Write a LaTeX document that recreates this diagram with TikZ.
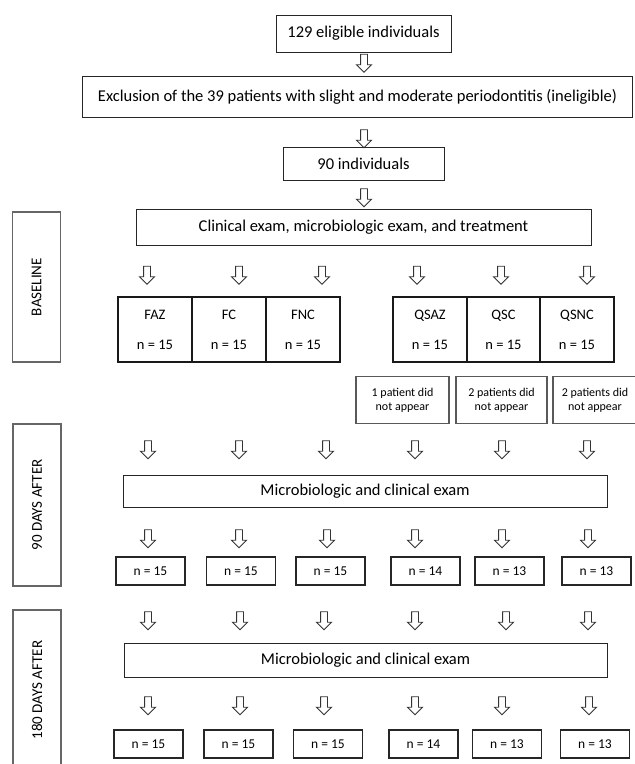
\documentclass[tikz,border=0pt]{standalone}
\usepackage{fontspec}
\setmainfont{Carlito}
\usetikzlibrary{shapes.arrows}
\begin{document}
\begin{tikzpicture}[x=1pt,y=-1pt,
  box/.style={draw=black!85, line width=1pt, inner sep=0pt, align=center,
    font=\fontsize{16.5}{19}\selectfont},
  cell/.style={draw=black!90, line width=1.4pt, inner sep=0pt, align=center,
    minimum width=74pt, minimum height=65pt, font=\fontsize{14.5}{30}\selectfont},
  miss/.style={draw=black!65, line width=1.1pt, inner sep=0pt, align=center,
    minimum height=47pt, font=\fontsize{12}{14}\selectfont},
  nbox/.style={draw=black!85, line width=1.2pt, inner sep=0pt, align=center,
    minimum width=69pt, minimum height=28pt, font=\fontsize{13.5}{16}\selectfont},
  side/.style={draw=black!60, line width=1.2pt, inner sep=0pt,
    minimum width=48pt, font=\fontsize{15}{18}\selectfont},
  downarr/.style={draw=black!80, line width=0.9pt, fill=white, single arrow,
    shape border rotate=270, inner sep=3pt, single arrow head extend=4pt,
    single arrow tip angle=90, minimum height=18pt}
]
\useasboundingbox (0,0) rectangle (635,764);

% top chain
\node[box, minimum width=175pt, minimum height=37pt] (b1) at (363.5,33.5) {129 eligible individuals};
\node[downarr] (a0) at (364,61.5) {};
\node[box, minimum width=550pt, minimum height=41pt] (b2) at (357.5,96.5) {Exclusion of the 39 patients with slight and moderate periodontitis (ineligible)};
\node[downarr] (a1) at (364,137) {};
\node[box, minimum width=161pt, minimum height=33pt] (b3) at (363.5,163.5) {90 individuals};
\node[downarr] (a2) at (364,196) {};
\node[box, minimum width=455pt, minimum height=36pt] (b4) at (363.5,227) {Clinical exam, microbiologic exam, and treatment};

% side labels
\node[side, minimum height=150pt] (s1) at (36.5,287) {};
\node[rotate=90, font=\fontsize{15}{18}\selectfont] (t1) at (s1.center) {BASELINE};
\node[side, minimum height=162pt] (s2) at (37,505) {};
\node[rotate=90, font=\fontsize{15}{18}\selectfont] (t2) at (s2.center) {90 DAYS AFTER};
\node[side, minimum height=160pt] (s3) at (37,690) {};
\node[rotate=90, font=\fontsize{15}{18}\selectfont] (t3) at (s3.center) {180 DAYS AFTER};

% row 1 arrows
\foreach \x [count=\i] in {147,239,322,417,501,587}
  \node[downarr] (r1a\i) at (\x,273.5) {};

% groups
\node[cell] (g1) at (155,329.5) {FAZ\\n = 15};
\node[cell] (g2) at (229,329.5) {FC\\n = 15};
\node[cell] (g3) at (303,329.5) {FNC\\n = 15};
\node[cell] (g4) at (430,329.5) {QSAZ\\n = 15};
\node[cell] (g5) at (503.5,329.5) {QSC\\n = 15};
\node[cell] (g6) at (577,329.5) {QSNC\\n = 15};

% missing
\node[miss, minimum width=93pt] (m4) at (402.5,400) {1 patient did\\not appear};
\node[miss, minimum width=91pt] (m5) at (501.5,400) {2 patients did\\not appear};
\node[miss, minimum width=84pt] (m6) at (595,400) {2 patients did\\not appear};

% 90 days
\foreach \x [count=\i] in {148,239,326,415,502,587}
  \node[downarr] (r2a\i) at (\x,448) {};
\node[box, minimum width=484pt, minimum height=32pt] (e1) at (365,491) {Microbiologic and clinical exam};
\foreach \x [count=\i] in {148,239,327,415,502,588}
  \node[downarr] (r3a\i) at (\x,537) {};
\node[nbox] (n1) at (150.5,571) {n = 15};
\node[nbox] (n2) at (241,571) {n = 15};
\node[nbox] (n3) at (330.5,571) {n = 15};
\node[nbox] (n4) at (425.5,571) {n = 14};
\node[nbox] (n5) at (509.5,571) {n = 13};
\node[nbox] (n6) at (596.5,571) {n = 13};

% 180 days
\foreach \x [count=\i] in {148,240,324,415,506,588}
  \node[downarr] (r4a\i) at (\x,619) {};
\node[box, minimum width=483pt, minimum height=34pt] (e2) at (365.5,660) {Microbiologic and clinical exam};
\foreach \x [count=\i] in {148,240,324,415,502,589}
  \node[downarr] (r5a\i) at (\x,704) {};
\node[nbox] (p1) at (148.5,744) {n = 15};
\node[nbox] (p2) at (238.5,744) {n = 15};
\node[nbox] (p3) at (328,744) {n = 15};
\node[nbox] (p4) at (423.5,744) {n = 14};
\node[nbox] (p5) at (507,744) {n = 13};
\node[nbox] (p6) at (595,744) {n = 13};
\end{tikzpicture}
\end{document}
